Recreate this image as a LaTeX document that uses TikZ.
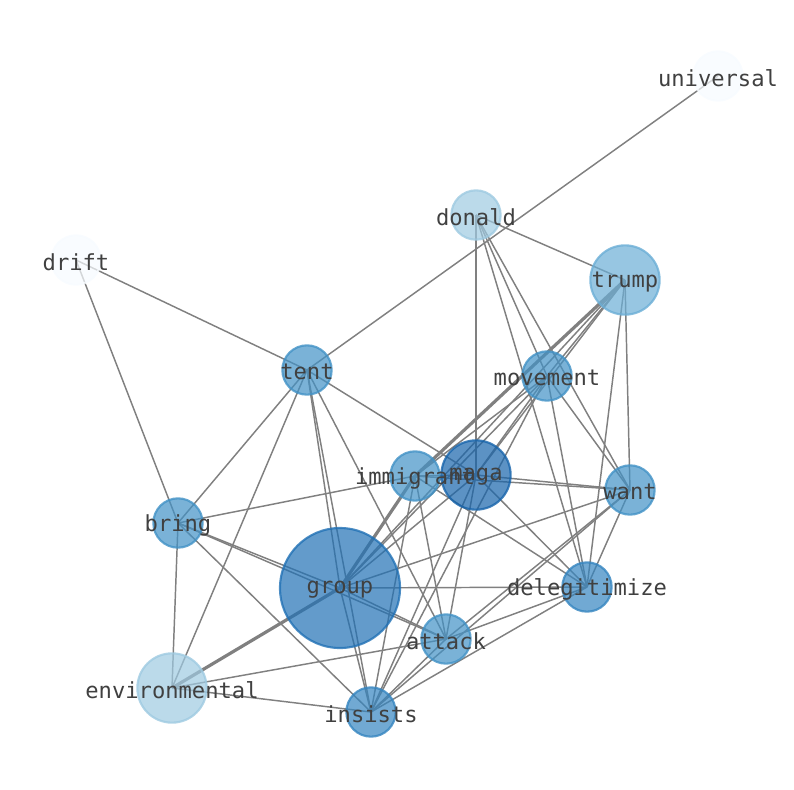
\documentclass[tikz,border=0pt]{standalone}
\usepackage{fontspec}
\newfontfamily\wordfont{DejaVu Sans Mono}
\usetikzlibrary{backgrounds}
\definecolor{blueA}{HTML}{F7FBFF}
\definecolor{blueB}{HTML}{9ECAE1}
\definecolor{blueC}{HTML}{6BAED6}
\definecolor{blueD}{HTML}{4292C6}
\definecolor{blueE}{HTML}{3585C0}
\definecolor{blueF}{HTML}{2171B5}
\definecolor{blueG}{HTML}{1764AB}

\begin{document}
\begin{tikzpicture}[x=0.75pt,y=-0.75pt]
  \tikzset{
    word/.style={draw, circle, inner sep=0pt, line width=1.6pt, fill opacity=0.7, draw opacity=0.8},
    small/.style={word, minimum size=37pt},
    mid/.style={word, minimum size=52pt},
    big/.style={word, minimum size=90pt},
    lbl/.style={font=\wordfont\fontsize{16.6}{18}\selectfont, text=black!75, inner sep=0pt, yshift=-1.5pt},
    line/.style={draw=gray, line width=1.1pt},
    heavy/.style={draw=gray, line width=2.4pt},
  }
  \useasboundingbox (0,0) rectangle (794,790);

  \node [small, fill=blueA, draw=blueA] (universal) at (718,76) {};
  \node [small, fill=blueB, draw=blueB] (donald) at (476,215) {};
  \node [small, fill=blueA, draw=blueA] (drift) at (76,260) {};
  \node [mid, fill=blueC, draw=blueC] (trump) at (625,280) {};
  \node [small, fill=blueD, draw=blueD] (tent) at (307,370) {};
  \node [small, fill=blueD, draw=blueD] (movement) at (547,376) {};
  \node [small, fill=blueD, draw=blueD] (immigrant) at (415,476) {};
  \node [mid, fill=blueG, draw=blueG] (maga) at (476,475) {};
  \node [small, fill=blueD, draw=blueD] (want) at (630,490) {};
  \node [small, fill=blueD, draw=blueD] (bring) at (178,523) {};
  \node [big, fill=blueF, draw=blueF] (group) at (340,588) {};
  \node [small, fill=blueE, draw=blueE] (delegitimize) at (587,587) {};
  \node [small, fill=blueD, draw=blueD] (attack) at (446,639) {};
  \node [mid, fill=blueB, draw=blueB] (environmental) at (172,688) {};
  \node [small, fill=blueE, draw=blueE] (insists) at (371,712) {};

  \foreach \w in {universal, donald, drift, trump, tent, movement, immigrant, maga,
                  want, bring, group, delegitimize, attack, environmental, insists}
    \node [lbl] (\w-l) at (\w) {\w};

  \begin{pgfonlayer}{background}
  \path [line] (universal.center)--(tent.center);
  \path [line] (drift.center)--(tent.center);
  \path [line] (drift.center)--(bring.center);
  \path [line] (donald.center)--(trump.center);
  \path [line] (donald.center)--(maga.center);
  \path [line] (donald.center)--(movement.center);
  \path [line] (donald.center)--(delegitimize.center);
  \path [line] (donald.center)--(want.center);
  \path [line] (trump.center)--(want.center);
  \path [line] (trump.center)--(delegitimize.center);
  \path [line] (trump.center)--(movement.center);
  \path [line] (trump.center)--(maga.center);
  \path [heavy] (trump.center)--(immigrant.center);
  \path [line] (trump.center)--(group.center);
  \path [line] (tent.center)--(bring.center);
  \path [line] (tent.center)--(environmental.center);
  \path [line] (tent.center)--(group.center);
  \path [line] (tent.center)--(insists.center);
  \path [line] (tent.center)--(maga.center);
  \path [line] (tent.center)--(attack.center);
  \path [line] (movement.center)--(maga.center);
  \path [line] (movement.center)--(immigrant.center);
  \path [line] (movement.center)--(group.center);
  \path [line] (movement.center)--(want.center);
  \path [line] (movement.center)--(delegitimize.center);
  \path [line] (movement.center)--(insists.center);
  \path [line] (immigrant.center)--(bring.center);
  \path [heavy] (immigrant.center)--(group.center);
  \path [line] (immigrant.center)--(want.center);
  \path [line] (immigrant.center)--(delegitimize.center);
  \path [line] (immigrant.center)--(attack.center);
  \path [line] (immigrant.center)--(insists.center);
  \path [line] (immigrant.center)--(maga.center);
  \path [line] (maga.center)--(want.center);
  \path [line] (maga.center)--(delegitimize.center);
  \path [line] (maga.center)--(attack.center);
  \path [line] (maga.center)--(insists.center);
  \path [line] (maga.center)--(group.center);
  \path [line] (want.center)--(group.center);
  \path [line] (want.center)--(delegitimize.center);
  \path [line] (want.center)--(attack.center);
  \path [line] (want.center)--(insists.center);
  \path [line] (bring.center)--(group.center);
  \path [line] (bring.center)--(attack.center);
  \path [line] (bring.center)--(environmental.center);
  \path [line] (bring.center)--(insists.center);
  \path [heavy] (group.center)--(environmental.center);
  \path [line] (group.center)--(delegitimize.center);
  \path [line] (group.center)--(attack.center);
  \path [line] (group.center)--(insists.center);
  \path [line] (delegitimize.center)--(attack.center);
  \path [line] (delegitimize.center)--(insists.center);
  \path [line] (attack.center)--(environmental.center);
  \path [line] (attack.center)--(insists.center);
  \path [line] (environmental.center)--(insists.center);
  \end{pgfonlayer}
\end{tikzpicture}
\end{document}
